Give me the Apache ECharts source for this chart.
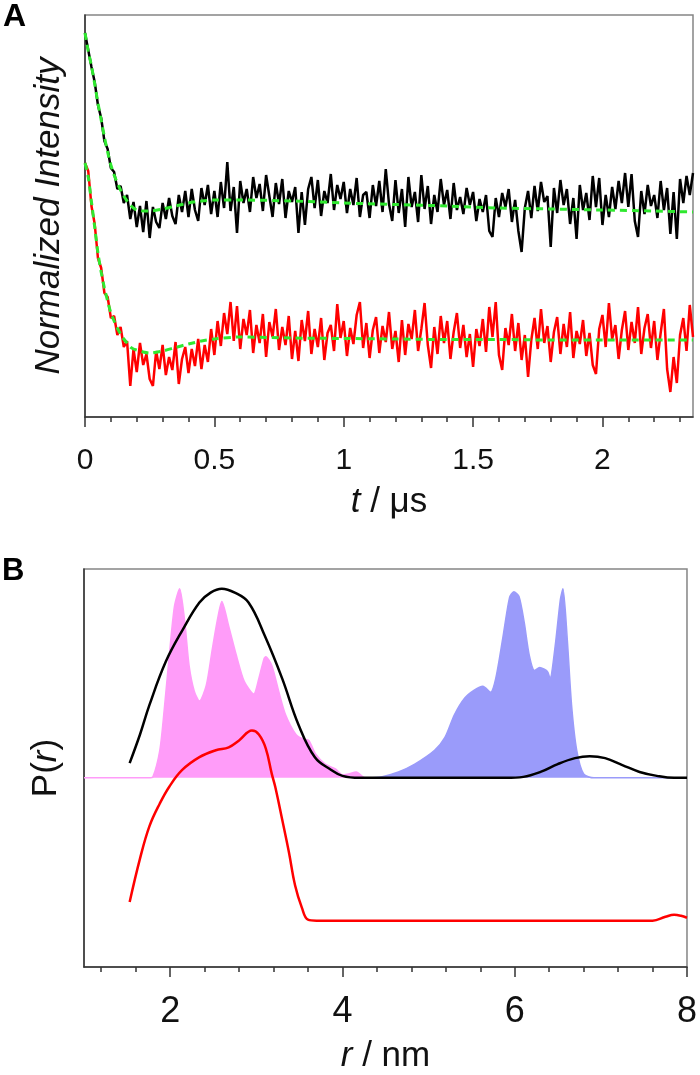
<!DOCTYPE html>
<html><head><meta charset="utf-8">
<script src="https://cdn.jsdelivr.net/npm/echarts@6/dist/echarts.min.js"></script>
<style>html,body{margin:0;padding:0;background:#fff}#c{width:700px;height:1075px}</style>
</head><body><div id="c"></div>
<script>
// ---------- Panel A data (time in µs, intensity in arbitrary units) ----------
const tStep = 0.0125;
const blackTrace = [
384,367,350,335,312,299,276,268,249,245,
228,231,214,222,198,215,190,211,185,216,
179,210,195,189,214,198,219,201,193,222,
205,226,200,228,207,196,229,212,232,203,
226,200,235,209,255,206,230,184,236,214,
228,205,240,219,233,206,242,221,200,234,
213,238,199,226,215,230,184,225,192,228,
240,209,237,201,226,214,243,207,232,218,
235,204,228,212,239,200,222,225,199,232,
211,236,205,248,213,196,237,204,228,190,
240,210,225,195,242,208,231,193,222,205,
238,212,227,198,234,207,220,203,229,212,
225,196,218,205,222,186,180,219,200,224,
210,228,195,217,186,165,209,226,199,231,
206,235,215,221,170,229,204,237,212,228,
193,219,178,232,207,224,197,241,210,239,
192,222,200,230,208,236,214,244,210,243,
196,180,226,203,232,211,222,199,236,207,
229,183,225,178,238,214,241,222,244];
const redTrace = [
254,246,211,193,159,149,124,120,99,101,
82,90,70,76,31,68,45,74,52,63,
38,31,66,48,72,42,60,47,75,33,
58,70,44,68,51,78,48,72,55,88,
62,96,71,104,83,115,76,111,68,98,
82,107,64,92,74,103,60,95,80,108,
67,90,72,101,58,86,56,97,76,106,
63,88,70,99,57,84,92,66,113,79,
96,61,89,73,102,115,69,94,59,87,
100,64,91,75,105,68,86,55,97,62,
93,78,107,66,88,114,72,49,90,63,
101,74,96,58,85,104,69,92,60,83,
50,88,71,98,65,110,80,115,62,47,
89,72,103,66,94,57,82,40,77,99,
68,108,74,91,55,85,100,63,93,70,
105,59,86,73,97,61,84,52,43,88,
102,70,114,78,92,58,87,106,67,95,
74,110,63,89,103,69,96,57,84,108,
48,25,60,34,82,99,66,112,80];
const fitT = [0,0.0125,0.025,0.0375,0.05,0.0625,0.075,0.0875,0.1,0.1125,0.125,0.1375,0.15,0.1625,0.175,0.1875,0.2,0.225,0.25,0.3,0.35,0.4,0.45,0.5,0.6,0.8,1.0,1.2,1.4,1.6,1.8,2.0,2.2,2.35];
const fitBlack = [384,366,351,333,314,297,280,265,252,242,234,227,221,216,212,209,207,206,206,208,211,214,216,217,217,216,214,212.5,211,209,208,207,206,205];
const fitRed = [254,240,215,190,164,145,129,116,104,96,89,83,78,74,70,68,67,65,64,66,69.5,73,76,78,80,79,78.5,78,77.5,77.5,77,77,77,77];
const aMajorTicks = [0,0.5,1,1.5,2];
const aTickLabels = ['0','0.5','1','1.5','2'];
const aMinorTicks = [0.1,0.2,0.3,0.4,0.6,0.7,0.8,0.9,1.1,1.2,1.3,1.4,1.6,1.7,1.8,1.9,2.1,2.2,2.3];

// ---------- Panel B data (r in nm, P(r) in arbitrary units) ----------
const blackR = [1.53,1.65,1.76,1.95,2.15,2.34,2.47,2.6,2.75,2.91,3.1,3.3,3.49,3.68,3.87,4.0,4.2,5.0,5.9,6.1,6.3,6.5,6.7,6.87,7.05,7.25,7.45,7.65,7.85,8.0];
const blackP = [15,44,74,118,151,178,188,192,188,178,144,101,54,21,8,2,0,0,0,1,6,14,20,22,20,13,6,2,0,0];
const redR = [1.53,1.65,1.76,1.88,1.99,2.14,2.34,2.53,2.68,2.8,2.95,3.03,3.11,3.18,3.22,3.3,3.38,3.45,3.53,3.6,3.7,4.0,7.6,7.75,7.85,7.93,8.0];
const redP = [-126,-82,-49,-26,-9,8,21,28,31,38,48,44,30,4,-9,-42,-76,-109,-132,-144,-145,-145,-145,-141,-139,-140,-142];
const pinkR = [1.0,1.75,1.8,1.88,1.93,1.99,2.05,2.11,2.17,2.22,2.28,2.34,2.42,2.49,2.55,2.6,2.68,2.77,2.86,2.97,3.03,3.09,3.11,3.18,3.26,3.34,3.46,3.55,3.61,3.69,3.8,3.92,4.0,4.07,4.16,4.26,4.3];
const pinkP = [0,0,1,28,68,124,174,192,158,114,88,78,94,131,161,179,154,124,98,85,101,121,123,114,88,64,44,39,38,24,14,9,3,4,6,0,0];
const blueR = [4.3,4.45,4.65,4.84,5.07,5.19,5.3,5.42,5.53,5.63,5.72,5.78,5.86,5.94,5.99,6.05,6.11,6.17,6.23,6.29,6.38,6.41,6.47,6.53,6.56,6.61,6.66,6.72,6.8,6.92,8.0];
const blueP = [0,1,6,14,28,41,64,81,89,93,87,101,141,183,189,184,158,124,109,112,108,101,134,181,192,141,74,28,4,0,0];
const bMajorTicks = [2,4,6,8];
const bTickLabels = ['2','4','6','8'];
const bMinorTicks = [1.2,1.6,2.4,2.8,3.2,3.6,4.4,4.8,5.2,5.6,6.4,6.8,7.2,7.6];

// ---------- chart ----------
const FONT = "'Liberation Sans', Arial, sans-serif";
const pair = (xs, ys) => xs.map((x, i) => [x, ys[i]]);
const tA = blackTrace.map((_, i) => +(i * tStep).toFixed(4));
const labelFor = (ticks, labels) => v => {
  const k = ticks.findIndex(t => Math.abs(t - v) < 1e-6);
  return k >= 0 ? labels[k] : '';
};
const AX = '#333';
const GREEN = '#2fe82f';

const mainX = (grid, min, max, ticks, labels, fontSize, margin, name, nameGap) => ({
  gridIndex: grid, type: 'value', min: min, max: max,
  axisLine: {show: true, onZero: false, lineStyle: {color: AX, width: 1.5}},
  axisTick: {show: true, customValues: ticks, length: 10, inside: false, lineStyle: {color: AX, width: 1.5}},
  axisLabel: {show: true, customValues: ticks, formatter: labelFor(ticks, labels), fontSize: fontSize, color: '#111', fontFamily: FONT, margin: margin},
  splitLine: {show: false},
  name: name, nameLocation: 'middle', nameGap: nameGap,
  nameTextStyle: {fontSize: 35, color: '#111', fontFamily: FONT,
    rich: {i: {fontStyle: 'italic', fontSize: 35, color: '#111', fontFamily: FONT}}}
});
const minorX = (grid, min, max, ticks) => ({
  gridIndex: grid, type: 'value', min: min, max: max, position: 'bottom',
  axisLine: {show: false, onZero: false},
  axisTick: {show: true, customValues: ticks, length: 5, lineStyle: {color: AX, width: 1.5}},
  axisLabel: {show: false}, splitLine: {show: false}
});

const option = {
  animation: false,
  backgroundColor: '#fff',
  grid: [
    {left: 85, top: 15, right: 7, height: 402, show: true, borderColor: '#858585', borderWidth: 1.5},
    {left: 84, top: 569, right: 9, height: 404, show: true, borderColor: '#858585', borderWidth: 1.5}
  ],
  xAxis: [
    mainX(0, 0, 2.35, aMajorTicks, aTickLabels, 30, 29, '{i|t} / μs', 68),
    minorX(0, 0, 2.35, aMinorTicks),
    mainX(1, 1, 8, bMajorTicks, bTickLabels, 36, 27, '{i|r} / nm', 72),
    minorX(1, 1, 8, bMinorTicks)
  ],
  yAxis: [
    {gridIndex: 0, type: 'value', min: 0, max: 402,
     axisLine: {show: true, onZero: false, lineStyle: {color: AX, width: 1.5}},
     axisTick: {show: false}, axisLabel: {show: false}, splitLine: {show: false},
     name: 'Normalized Intensity', nameLocation: 'middle', nameGap: 18,
     nameTextStyle: {fontSize: 35, fontStyle: 'italic', color: '#111', fontFamily: FONT}},
    {gridIndex: 1, type: 'value', min: -192, max: 212,
     axisLine: {show: true, onZero: false, lineStyle: {color: AX, width: 1.5}},
     axisTick: {show: false}, axisLabel: {show: false}, splitLine: {show: false},
     name: 'P({i|r})', nameLocation: 'middle', nameGap: 20,
     nameTextStyle: {fontSize: 35, color: '#111', fontFamily: FONT,
       rich: {i: {fontStyle: 'italic', fontSize: 35, color: '#111', fontFamily: FONT}}}}
  ],
  graphic: [
    {type: 'text', left: 3, top: 1, style: {text: 'A', font: 'bold 32px ' + FONT, fill: '#000'}},
    {type: 'text', left: 2, top: 556, style: {text: 'B', font: 'bold 31px ' + FONT, fill: '#000'}}
  ],
  series: [
    {type: 'line', xAxisIndex: 0, yAxisIndex: 0, data: pair(tA, blackTrace), showSymbol: false,
     lineStyle: {color: '#000', width: 2.5}, z: 2},
    {type: 'line', xAxisIndex: 0, yAxisIndex: 0, data: pair(tA, redTrace), showSymbol: false,
     lineStyle: {color: '#ff0000', width: 2.5}, z: 2},
    {type: 'line', xAxisIndex: 0, yAxisIndex: 0, data: pair(fitT, fitBlack), showSymbol: false, smooth: 0.3,
     lineStyle: {color: GREEN, width: 3, type: [7, 5]}, z: 3},
    {type: 'line', xAxisIndex: 0, yAxisIndex: 0, data: pair(fitT, fitRed), showSymbol: false, smooth: 0.3,
     lineStyle: {color: GREEN, width: 3, type: [7, 5]}, z: 3},
    {type: 'line', xAxisIndex: 2, yAxisIndex: 1, data: pair(pinkR, pinkP), showSymbol: false, smooth: 0.25,
     lineStyle: {color: '#ff9cf9', width: 1.5}, areaStyle: {color: '#ff9cf9', opacity: 1}, z: 1},
    {type: 'line', xAxisIndex: 2, yAxisIndex: 1, data: pair(blueR, blueP), showSymbol: false, smooth: 0.25,
     lineStyle: {color: '#9a9bfa', width: 1.5}, areaStyle: {color: '#9a9bfa', opacity: 1}, z: 1},
    {type: 'line', xAxisIndex: 2, yAxisIndex: 1, data: pair(blackR, blackP), showSymbol: false, smooth: 0.4,
     lineStyle: {color: '#000', width: 2.5}, z: 3},
    {type: 'line', xAxisIndex: 2, yAxisIndex: 1, data: pair(redR, redP), showSymbol: false, smooth: 0.4,
     lineStyle: {color: '#ff0000', width: 2.5}, z: 3}
  ]
};
const chart = echarts.init(document.getElementById('c'), null, {renderer: 'canvas'});
chart.setOption(option);
</script>
</body></html>
